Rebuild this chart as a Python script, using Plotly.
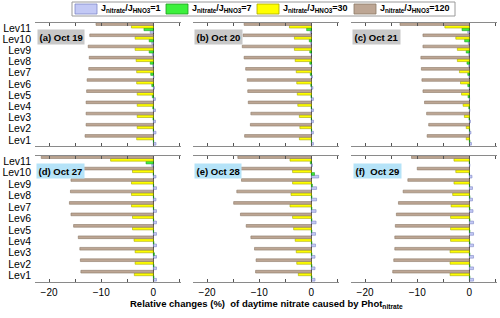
import plotly.graph_objects as go

W, H = 500, 318

levels = ["Lev1", "Lev2", "Lev3", "Lev4", "Lev5", "Lev6", "Lev7", "Lev8", "Lev9", "Lev10", "Lev11"]
panel_titles = ["(a) Oct 19", "(b) Oct 20", "(c) Oct 21", "(d) Oct 27", "(e) Oct 28", "(f)  Oct 29"]
series_names = ["J<sub>nitrate</sub>/J<sub>HNO3</sub>=1", "J<sub>nitrate</sub>/J<sub>HNO3</sub>=7",
                "J<sub>nitrate</sub>/J<sub>HNO3</sub>=30", "J<sub>nitrate</sub>/J<sub>HNO3</sub>=120"]

# values per panel, Lev1..Lev11
a_j1 = [0.5, 0.5, 0.4, 0.4, 0.4, 0.2, 0.1, -0.1, -0.2, -0.3, -0.6]
a_j7 = [0.05, 0.0, -0.05, -0.1, -0.2, -0.3, -0.5, -0.6, -0.8, -0.8, -1.8]
a_j30 = [-3.2, -3.1, -3.1, -3.1, -3.1, -3.2, -3.2, -3.3, -3.5, -3.5, -4.2]
a_j120 = [-13.1, -12.9, -12.9, -12.9, -12.8, -12.7, -12.4, -12.3, -12.5, -12.2, -11.0]

b_j1 = [0.4, 0.4, 0.4, 0.4, 0.4, 0.3, 0.2, 0.1, 0.0, -0.1, -0.2]
b_j7 = [0.05, 0.05, 0.0, 0.0, -0.05, -0.1, -0.2, -0.3, -0.3, -0.4, -0.9]
b_j30 = [-2.3, -2.2, -2.3, -2.6, -2.7, -2.8, -2.9, -3.1, -3.25, -3.25, -4.2]
b_j120 = [-12.8, -11.7, -11.6, -12.1, -12.2, -12.3, -12.6, -12.9, -13.25, -13.1, -12.9]

c_j1 = [0.4, 0.3, 0.2, 0.1, 0.05, 0.0, -0.05, -0.1, -0.1, -0.2, -0.3]
c_j7 = [0.1, 0.05, -0.05, -0.1, -0.25, -0.3, -0.3, -0.45, -0.6, -0.9, -1.4]
c_j30 = [-0.6, -0.6, -0.95, -1.2, -1.5, -1.7, -1.9, -2.3, -2.3, -2.6, -4.7]
c_j120 = [-8.1, -7.8, -8.2, -8.6, -8.9, -9.1, -9.2, -9.3, -8.9, -8.9, -13.3]

d_j1 = [0.6, 0.6, 0.6, 0.6, 0.6, 0.6, 0.6, 0.5, 0.6, 0.5, -0.3]
d_j7 = [0.1, 0.1, 0.2, 0.1, 0.05, 0.05, 0.05, 0.05, 0.05, 0.0, -1.4]
d_j30 = [-3.65, -3.5, -3.5, -3.7, -4.0, -4.0, -4.2, -4.2, -4.2, -4.0, -8.2]
d_j120 = [-13.9, -14.0, -14.1, -14.4, -15.3, -15.8, -16.1, -15.9, -15.8, -15.5, -21.5]

e_j1 = [0.7, 0.7, 0.7, 0.8, 0.8, 0.9, 0.9, 1.0, 1.0, 1.4, 0.2]
e_j7 = [0.1, 0.1, 0.1, 0.1, 0.1, 0.1, 0.1, 0.1, 0.2, 0.6, -0.2]
e_j30 = [-2.5, -2.8, -2.9, -3.1, -3.4, -3.6, -4.1, -3.9, -3.6, -3.6, -4.1]
e_j120 = [-10.7, -10.6, -10.9, -11.6, -12.5, -13.6, -14.9, -14.3, -13.4, -14.0, -14.1]

f_j1 = [0.8, 0.8, 0.8, 0.8, 0.8, 0.8, 0.7, 0.6, 0.6, 0.5, 0.1]
f_j7 = [0.1, 0.1, 0.1, 0.1, 0.1, 0.1, 0.1, 0.1, 0.05, 0.0, 0.0]
f_j30 = [-3.7, -3.7, -3.7, -3.6, -3.6, -3.6, -3.5, -3.2, -2.95, -2.6, -2.95]
f_j120 = [-14.7, -14.5, -14.3, -14.3, -14.2, -14.0, -13.6, -12.7, -11.8, -10.0, -11.1]

panels = [
    (a_j1, a_j7, a_j30, a_j120),
    (b_j1, b_j7, b_j30, b_j120),
    (c_j1, c_j7, c_j30, c_j120),
    (d_j1, d_j7, d_j30, d_j120),
    (e_j1, e_j7, e_j30, e_j120),
    (f_j1, f_j7, f_j30, f_j120),
]

fill_colors = ["#c3c9f5", "#3cf03c", "#ffff00", "#bda694"]
line_colors = ["#7f88c8", "#1f9a1f", "#a8a800", "#8c7866"]

def xf(px):
    return px / W

def yf(py):
    return 1 - py / H

col_px = [(35, 181), (193, 339), (351, 497)]
row_px = [(23, 146), (156, 282)]
xrange = [-22.7, 5.3]

fig = go.Figure()
layout = {}
for i, vals in enumerate(panels):
    r, c = divmod(i, 3)
    n = i + 1
    xa = "x" if n == 1 else f"x{n}"
    ya = "y" if n == 1 else f"y{n}"
    for s in range(4):
        fig.add_trace(go.Bar(
            x=vals[s], y=levels, orientation="h",
            xaxis=xa, yaxis=ya,
            marker=dict(color=fill_colors[s], line=dict(color=line_colors[s], width=0.6)),
            name=series_names[s], showlegend=False, hoverinfo="skip",
        ))
    xkey = "xaxis" if n == 1 else f"xaxis{n}"
    ykey = "yaxis" if n == 1 else f"yaxis{n}"
    layout[xkey] = dict(
        domain=[xf(col_px[c][0]), xf(col_px[c][1])],
        anchor=ya, range=xrange, showgrid=False,
        showline=True, linecolor="#8a8a8a", linewidth=1, mirror="ticks",
        ticks="inside", ticklen=3, tickcolor="#555555",
        tick0=0, dtick=10,
        minor=dict(dtick=5, tick0=0, ticks="inside", ticklen=3, tickcolor="#555555"),
        showticklabels=(r == 1), ticklabelstandoff=1,
        tickfont=dict(family="Arial", size=10, color="black"),
        zeroline=True, zerolinecolor="black", zerolinewidth=1,
        automargin=False,
    )
    layout[ykey] = dict(
        domain=[yf(row_px[r][1]), yf(row_px[r][0])],
        anchor=xa, type="category", categoryorder="array", categoryarray=levels,
        tickmode="array", tickvals=levels, ticktext=levels,
        range=[-0.55, 10.45], showgrid=False, showline=False, ticks="",
        showticklabels=(c == 0), ticklabelstandoff=3,
        tickfont=dict(family="Arial", size=10.5, color="black"),
        zeroline=False, automargin=False,
    )

annotations = []
label_pos = [(37, 37), (194, 37), (352, 37), (36, 171), (194, 170.5), (352.5, 170.5)]
for i, t in enumerate(panel_titles):
    r = i // 3
    px, py = label_pos[i]
    annotations.append(dict(
        x=xf(px), y=yf(py), xref="paper", yref="paper", xanchor="left", yanchor="middle",
        text=f"<b>{t}</b>", showarrow=False,
        font=dict(family="Arial", size=9.5, color="black"),
        bgcolor="#c8c8c8" if r == 0 else "#b5e3f8", borderpad=1.5,
    ))

# legend drawn manually
shapes = [dict(type="rect", xref="paper", yref="paper", x0=xf(72), x1=xf(455), y0=yf(16), y1=yf(2),
               line=dict(color="#9a9a9a", width=1), fillcolor="white")]
sw_x = [75, 166, 257, 354]
for s in range(4):
    shapes.append(dict(type="rect", xref="paper", yref="paper",
                       x0=xf(sw_x[s]), x1=xf(sw_x[s] + 22), y0=yf(14), y1=yf(4),
                       line=dict(color=line_colors[s], width=0.8), fillcolor=fill_colors[s]))
    annotations.append(dict(
        x=xf(sw_x[s] + 24), y=yf(8.5), xref="paper", yref="paper", xanchor="left", yanchor="middle",
        text=f"<b>{series_names[s]}</b>", showarrow=False,
        font=dict(family="Arial", size=9, color="black"),
    ))

annotations.append(dict(
    x=xf(266), y=yf(303.5), xref="paper", yref="paper", xanchor="center", yanchor="middle",
    text="<b>Relative changes (%)  of daytime nitrate caused by Phot<sub>nitrate</sub></b>",
    showarrow=False, font=dict(family="Arial", size=9.5, color="black"),
))

fig.update_layout(
    width=W, height=H, margin=dict(l=0, r=0, t=0, b=0, autoexpand=False),
    paper_bgcolor="white", plot_bgcolor="white",
    barmode="group", bargap=0.06, bargroupgap=0,
    annotations=annotations, shapes=shapes, showlegend=False,
    **layout,
)

fig.write_html("out.html", config={"displayModeBar": False},
               post_script="document.body.style.margin='0px';document.body.style.overflow='hidden';")
